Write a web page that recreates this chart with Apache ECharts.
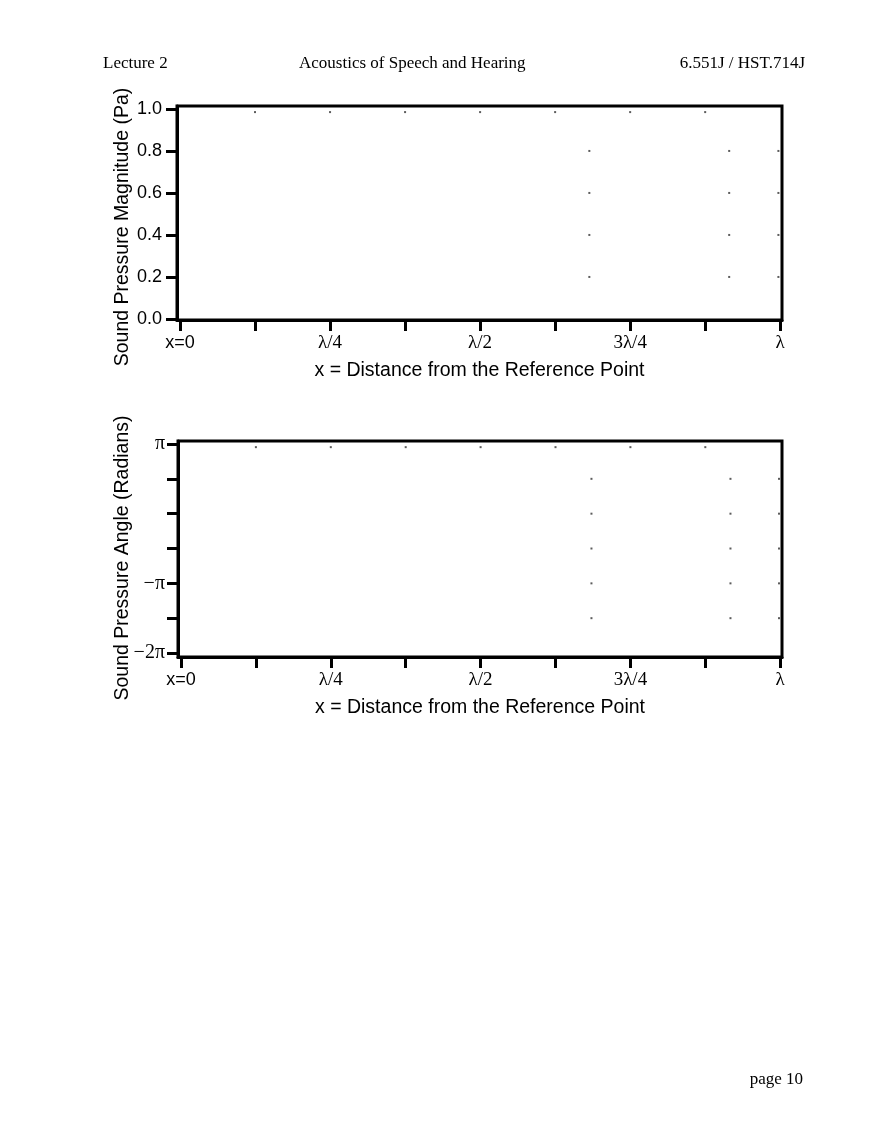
<!DOCTYPE html>
<html>
<head>
<meta charset="utf-8">
<script src="https://cdn.jsdelivr.net/npm/echarts@6/dist/echarts.min.js"></script>
<style>
  html, body { margin: 0; padding: 0; background: #fff; }
  #chart { width: 880px; height: 1139px; }
</style>
</head>
<body>
<div id="chart"></div>
<script>
// ---- data ----
const xTickValues = [0, 0.125, 0.25, 0.375, 0.5, 0.625, 0.75, 0.875, 1];
const xLabelValues = [0, 0.25, 0.5, 0.75, 1];
const xTickLabels = ['x=0', 'λ/4', 'λ/2', '3λ/4', 'λ'];

const magTickValues = [0, 0.2, 0.4, 0.6, 0.8, 1.0];
const magTickLabels = ['0.0', '0.2', '0.4', '0.6', '0.8', '1.0'];

const angTickValues = [-6.283, -4.712, -3.142, -1.571, 0, 1.571, 3.142];
const angLabelValues = [-6.283, -3.142, 3.142];
const angTickLabels = ['−2π', '−π', 'π'];

// faint dots in the magnitude panel
const magDotsX = [0.125, 0.25, 0.375, 0.5, 0.625, 0.75, 0.875, 0.682, 0.682, 0.682, 0.682, 0.915, 0.915, 0.915, 0.915, 0.997, 0.997, 0.997, 0.997];
const magDotsY = [0.985, 0.985, 0.985, 0.985, 0.985, 0.985, 0.985, 0.8, 0.6, 0.4, 0.2, 0.8, 0.6, 0.4, 0.2, 0.8, 0.6, 0.4, 0.2];

// faint dots in the angle panel
const angDotsX = [0.125, 0.25, 0.375, 0.5, 0.625, 0.75, 0.875, 0.685, 0.685, 0.685, 0.685, 0.685, 0.917, 0.917, 0.917, 0.917, 0.917, 0.998, 0.998, 0.998, 0.998, 0.998];
const angDotsY = [3.0, 3.0, 3.0, 3.0, 3.0, 3.0, 3.0, 1.571, 0, -1.571, -3.142, -4.712, 1.571, 0, -1.571, -3.142, -4.712, 1.571, 0, -1.571, -3.142, -4.712];

const magPoints = magDotsX.map((x, i) => [x, magDotsY[i]]);
const angPoints = angDotsX.map((x, i) => [x, angDotsY[i]]);

const SANS = '"Liberation Sans", Arial, Helvetica, sans-serif';
const SERIF = '"Liberation Serif", "Times New Roman", serif';

function xLabelFmt(v) {
  const i = xLabelValues.findIndex(t => Math.abs(t - v) < 1e-6);
  if (i < 0) return '';
  return i === 0 ? '{s|' + xTickLabels[i] + '}' : '{g|' + xTickLabels[i] + '}';
}
function magLabelFmt(v) {
  const i = magTickValues.findIndex(t => Math.abs(t - v) < 1e-6);
  return i < 0 ? '' : magTickLabels[i];
}
function angLabelFmt(v) {
  const i = angLabelValues.findIndex(t => Math.abs(t - v) < 1e-6);
  return i < 0 ? '' : angTickLabels[i];
}

const axisLine = { show: true, onZero: false, lineStyle: { color: '#000', width: 3 } };
const axisTick = { show: true, inside: false, length: 11, lineStyle: { color: '#000', width: 3 } };

function xAxis(gridIndex) {
  return {
    type: 'value', gridIndex: gridIndex,
    min: -0.005, max: 1.003,
    name: 'x = Distance from the Reference Point',
    nameLocation: 'middle', nameGap: 41, nameMoveOverlap: false,
    nameTextStyle: { fontFamily: SANS, fontSize: 19.5, color: '#000' },
    axisLine: axisLine,
    axisTick: Object.assign({}, axisTick, { customValues: xTickValues }),
    axisLabel: {
      customValues: xLabelValues, margin: 14, formatter: xLabelFmt, color: '#000',
      rich: {
        s: { fontFamily: SANS, fontSize: 18, color: '#000' },
        g: { fontFamily: SERIF, fontSize: 19, color: '#000' }
      }
    },
    splitLine: { show: false }
  };
}

const headStyle = { fontFamily: SERIF, fontSize: 17, fontWeight: 'normal', color: '#000' };

const option = {
  backgroundColor: '#fff',
  animation: false,
  title: [
    { text: 'Lecture 2', left: 103, top: 55, padding: 0, textStyle: headStyle },
    { text: 'Acoustics of Speech and Hearing', left: 299, top: 55, padding: 0, textStyle: headStyle },
    { text: '6.551J / HST.714J', right: 75, top: 55, padding: 0, textStyle: headStyle },
    { text: 'page 10', right: 77, top: 1071, padding: 0, textStyle: headStyle }
  ],
  grid: [
    { left: 177, top: 106, width: 605, height: 214, show: true, borderColor: '#000', borderWidth: 3, backgroundColor: 'transparent' },
    { left: 178, top: 441, width: 604, height: 216, show: true, borderColor: '#000', borderWidth: 3, backgroundColor: 'transparent' }
  ],
  xAxis: [xAxis(0), xAxis(1)],
  yAxis: [
    {
      type: 'value', gridIndex: 0, min: -0.005, max: 1.014,
      name: 'Sound Pressure Magnitude (Pa)', nameLocation: 'middle', nameGap: 44, nameMoveOverlap: false,
      nameTextStyle: { fontFamily: SANS, fontSize: 19.5, color: '#000', padding: [0, 28, 0, 0] },
      axisLine: axisLine,
      axisTick: Object.assign({}, axisTick, { customValues: magTickValues }),
      axisLabel: { customValues: magTickValues, margin: 15, formatter: magLabelFmt, fontFamily: SANS, fontSize: 18, color: '#000' },
      splitLine: { show: false }
    },
    {
      type: 'value', gridIndex: 1, min: -6.463, max: 3.277,
      name: 'Sound Pressure Angle (Radians)', nameLocation: 'middle', nameGap: 45, nameMoveOverlap: false,
      nameTextStyle: { fontFamily: SANS, fontSize: 19.5, color: '#000', padding: [0, 18, 0, 0] },
      axisLine: axisLine,
      axisTick: Object.assign({}, axisTick, { customValues: angTickValues }),
      axisLabel: { customValues: angLabelValues, margin: 13, formatter: angLabelFmt, fontFamily: SERIF, fontSize: 20, color: '#000' },
      splitLine: { show: false }
    }
  ],
  series: [
    { type: 'scatter', xAxisIndex: 0, yAxisIndex: 0, data: magPoints, symbol: 'rect', symbolSize: 2, itemStyle: { color: '#333' }, silent: true },
    { type: 'scatter', xAxisIndex: 1, yAxisIndex: 1, data: angPoints, symbol: 'rect', symbolSize: 2, itemStyle: { color: '#333' }, silent: true }
  ]
};

const chart = echarts.init(document.getElementById('chart'), null, { renderer: 'canvas' });
chart.setOption(option);
</script>
</body>
</html>
